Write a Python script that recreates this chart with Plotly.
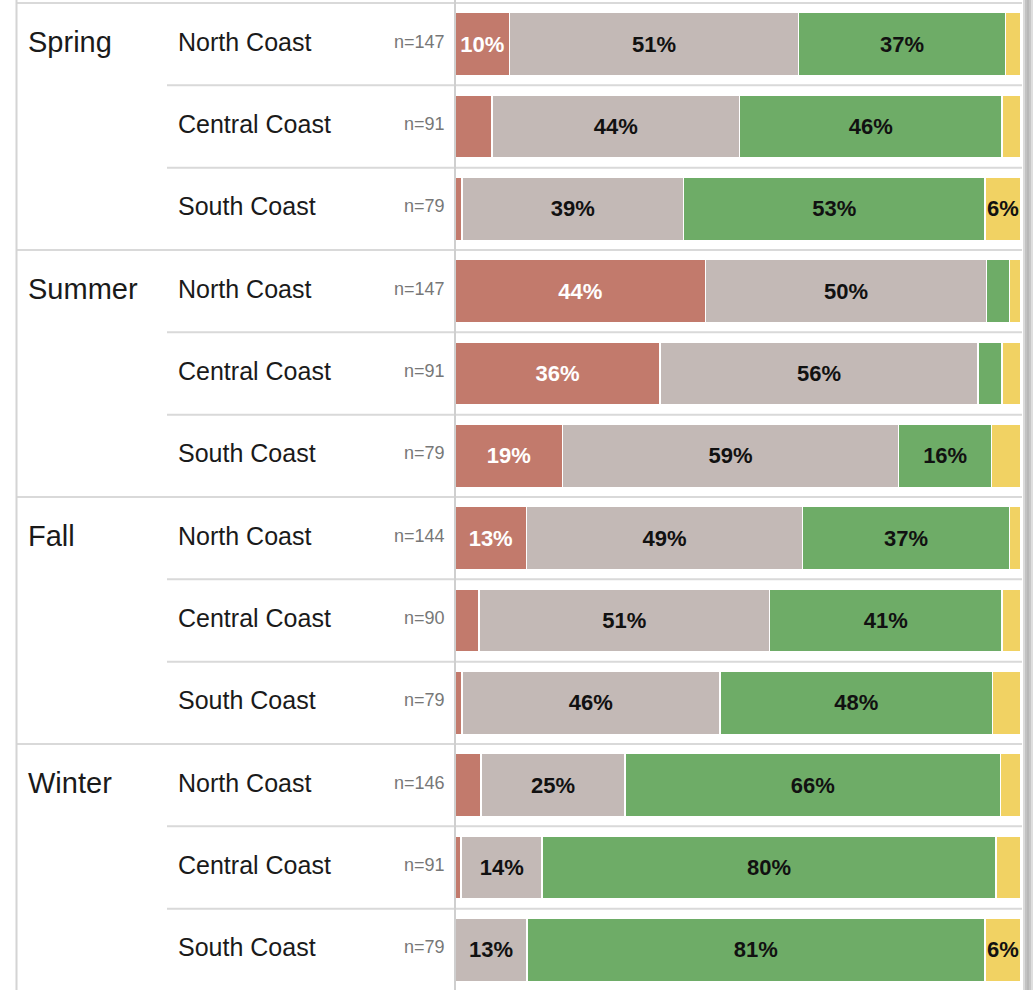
import plotly.graph_objects as go

# ---- data ----
seasons = ["Spring", "Summer", "Fall", "Winter"]
regions = ["North Coast", "Central Coast", "South Coast"]
n_counts = [147, 91, 79, 147, 91, 79, 144, 90, 79, 146, 91, 79]
red_vals = [9.6, 6.5, 1.2, 44.3, 36.2, 19.0, 12.6, 4.2, 1.2, 4.6, 1.1, 0.0]
grey_vals = [51.1, 43.8, 39.2, 49.6, 56.2, 59.4, 48.8, 51.4, 45.6, 25.4, 14.3, 12.7]
green_vals = [36.6, 46.3, 53.2, 4.1, 4.2, 16.4, 36.6, 41.0, 48.2, 66.4, 80.2, 80.9]
yellow_vals = [2.7, 3.4, 6.4, 2.0, 3.4, 5.2, 2.0, 3.4, 5.0, 3.6, 4.4, 6.4]

W, H = 1033, 990
FONT = "Arial, 'Liberation Sans', sans-serif"

n_rows = len(seasons) * len(regions)
rows = list(range(n_rows))

# pixel geometry
top_px = 3.0
row_px = 82.33
x_left_px, x_right_px = 455, 1021


def px2y(py):
    return -0.5 + (py - top_px) / row_px


series = [
    ("red", red_vals, "#C27A6C", "white", 8),
    ("grey", grey_vals, "#C3B9B6", "#111111", 6),
    ("green", green_vals, "#6EAC67", "#111111", 6),
    ("yellow", yellow_vals, "#F1D263", "#111111", 6),
]

fig = go.Figure()
for name, vals, col, tcol, thr in series:
    texts = [f"{round(v)}%" if v >= thr else "" for v in vals]
    fig.add_trace(go.Bar(
        name=name, x=vals, y=rows, orientation="h",
        marker=dict(color=col, line=dict(color="white", width=1.5)),
        text=texts, textposition="inside", insidetextanchor="middle",
        textangle=0,
        insidetextfont=dict(family=FONT, size=22, color=tcol, weight="bold"),
        hoverinfo="skip",
    ))

shapes = []
annotations = []
line_col = "#D9D9D9"

# top line
shapes.append(dict(type="line", xref="paper", yref="y",
                   x0=17 / W, x1=1022 / W, y0=-0.5, y1=-0.5,
                   line=dict(color=line_col, width=2)))
for i in range(1, n_rows):
    if i % len(regions) == 0:
        x0 = 17 / W
    else:
        x0 = 167 / W
    shapes.append(dict(type="line", xref="paper", yref="y",
                       x0=x0, x1=1022 / W, y0=i - 0.5, y1=i - 0.5,
                       line=dict(color=line_col, width=2)))

# vertical lines: left border, axis line
shapes.append(dict(type="line", xref="paper", yref="paper",
                   x0=16.5 / W, x1=16.5 / W, y0=0, y1=1,
                   line=dict(color="#D4D4D4", width=2)))
shapes.append(dict(type="line", xref="paper", yref="paper",
                   x0=455 / W, x1=455 / W, y0=0, y1=1,
                   line=dict(color="#CFCFCF", width=2)))
# right border / shadow band
for xa, xb, c in [(1023, 1025, "#DADADA"), (1025, 1027, "#C2C2C2"),
                  (1027, 1029, "#B8B8B8"), (1029, 1031, "#C6C6C6"),
                  (1031, 1033, "#DEDEDE")]:
    shapes.append(dict(type="rect", xref="paper", yref="paper",
                       x0=xa / W, x1=xb / W, y0=0, y1=1,
                       fillcolor=c, line=dict(width=0), layer="above"))

# labels
for si, s in enumerate(seasons):
    r0 = si * len(regions)
    annotations.append(dict(xref="paper", yref="y", x=26 / W, y=r0 - 0.03,
                            text=s, showarrow=False, xanchor="left",
                            yanchor="middle",
                            font=dict(family=FONT, size=29, color="#1A1A1A")))
    for ri, reg in enumerate(regions):
        r = r0 + ri
        annotations.append(dict(xref="paper", yref="y", x=176 / W, y=r - 0.03,
                                text=reg, showarrow=False, xanchor="left",
                                yanchor="middle",
                                font=dict(family=FONT, size=25, color="#1A1A1A")))
        annotations.append(dict(xref="paper", yref="y", x=447 / W, y=r - 0.03,
                                text=f"n={n_counts[r]}", showarrow=False,
                                xanchor="right", yanchor="middle",
                                font=dict(family=FONT, size=18, color="#777777")))

fig.update_layout(
    width=W, height=H,
    margin=dict(l=0, r=0, t=0, b=0),
    paper_bgcolor="white", plot_bgcolor="white",
    barmode="stack", bargap=0.23,
    showlegend=False,
    uniformtext=dict(minsize=22, mode="show"),
    xaxis=dict(range=[0, 100], domain=[x_left_px / W, x_right_px / W],
               visible=False, fixedrange=True),
    yaxis=dict(range=[px2y(H), px2y(0)], visible=False, fixedrange=True),
    shapes=shapes, annotations=annotations,
    font=dict(family=FONT),
)

fig.write_html("out.html",
               config={"displayModeBar": False, "staticPlot": True},
               post_script="document.body.style.margin='0';document.body.style.overflow='hidden';")
